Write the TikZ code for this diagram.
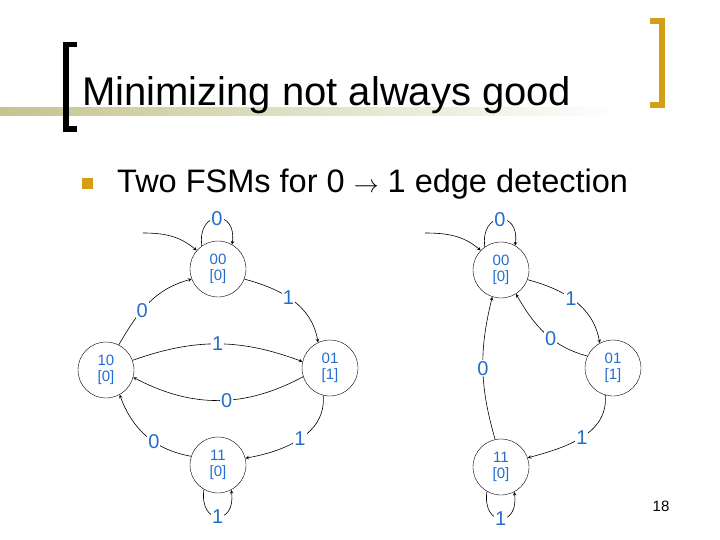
\documentclass[tikz,border=0pt]{standalone}
\usepackage{fontspec}
\setmainfont{Liberation Sans}
\definecolor{stateblue}{RGB}{35,110,205}
\definecolor{khaki}{RGB}{196,196,142}
\definecolor{gold}{RGB}{210,160,22}

\begin{document}
\begin{tikzpicture}[x=1pt,y=-1pt]
\tikzstyle{state}=[draw,circle,minimum size=56pt,inner sep=0pt,align=center,text=stateblue,font=\fontsize{15}{16}\selectfont]
\tikzstyle{trans}=[->,>=stealth,line width=0.6pt]
\tikzstyle{lbl}=[fill=white,inner sep=1pt,text=stateblue,font=\fontsize{20}{20}\selectfont]

\useasboundingbox (0,0) rectangle (720,540);

% title bar
\shade[left color=khaki,right color=white] (0,108) rectangle (625,116);
\fill (63,42) rectangle (69,132);
\fill (63,42) rectangle (77,47);
\fill (63,126) rectangle (77,132);
\fill[gold] (659,18) rectangle (665,108);
\fill[gold] (650,18) rectangle (665,24);
\fill[gold] (650,102) rectangle (665,108);
\node[anchor=base west,inner sep=0pt,font=\fontsize{40}{40}\selectfont] (title) at (82,106) {Minimizing not always good};

% bullet
\fill[gold] (82,178) rectangle (93,189);
\node[anchor=base west,inner sep=0pt,font=\fontsize{32.5}{32.5}\selectfont] (sub) at (117,193) {Two FSMs for 0 $\rightarrow$ 1 edge detection};

% left machine
\node[state] (a00) at (218,269) {00\\{[0]}};
\node[state] (a10) at (106,370) {10\\{[0]}};
\node[state] (a01) at (330,368) {01\\{[1]}};
\node[state] (a11) at (218,465) {11\\{[0]}};
\coordinate (astart) at (143,233);

\draw[trans] (astart) to[out=0,in=140] (a00.139);
\draw[trans] (a00.125) .. controls +(-5,-36) and +(5,-36) .. node[lbl,pos=0.5] {0} (a00.60);
\draw[trans] (a10.63) to[out=60,in=195] node[lbl,pos=0.4] {0} (a00.201);
\draw[trans] (a00.-21) to[out=-15,in=100] node[lbl,pos=0.45] {1} (a01.115);
\draw[trans] (a10.20) to[bend left=20] node[lbl] {1} (a01.167);
\draw[trans] (a01.198) to[bend left=28] node[lbl,pos=0.45] {0} (a10.-15);
\draw[trans] (a11.162) to[out=170,in=290] node[lbl,pos=0.4] {0} (a10.-61);
\draw[trans] (a01.-104) to[out=275,in=10] node[lbl,pos=0.5] {1} (a11.14);
\draw[trans] (a11.-120) .. controls +(-5,36) and +(5,36) .. node[lbl,pos=0.5] {1} (a11.-62);

% right machine
\node[state] (b00) at (501,270) {00\\{[0]}};
\node[state] (b01) at (613,368) {01\\{[1]}};
\node[state] (b11) at (501,467) {11\\{[0]}};
\coordinate (bstart) at (425,233);

\draw[trans] (bstart) to[out=0,in=140] (b00.136);
\draw[trans] (b00.125) .. controls +(-5,-36) and +(5,-36) .. node[lbl,pos=0.5] {0} (b00.60);
\draw[trans] (b00.-20) to[out=-15,in=100] node[lbl,pos=0.45] {1} (b01.118);
\draw[trans] (b01.155) to[out=165,in=-60] node[lbl,pos=0.42] {0} (b00.-58);
\draw[trans] (b11.102) to[bend left=15] node[lbl] {0} (b00.-108);
\draw[trans] (b01.-106) to[out=275,in=15] node[lbl,pos=0.5] {1} (b11.19);
\draw[trans] (b11.-120) .. controls +(-5,36) and +(5,36) .. node[lbl,pos=0.5] {1} (b11.-62);

\node[anchor=base,inner sep=0pt,font=\fontsize{15}{15}\selectfont] (pnum) at (661,511) {18};
\end{tikzpicture}
\end{document}
